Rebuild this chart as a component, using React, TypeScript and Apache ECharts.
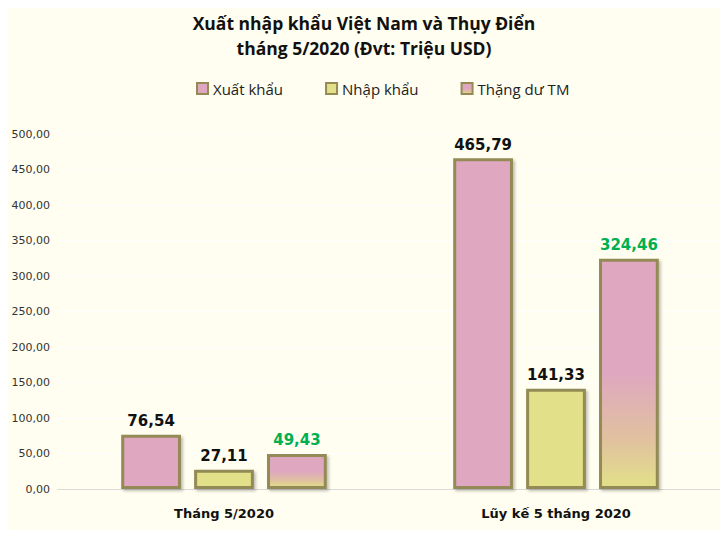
import { useEffect, useRef } from 'react';
import * as echarts from 'echarts';

const categories = ['Tháng 5/2020', 'Lũy kế 5 tháng 2020'];
const exportValues = [76.54, 465.79];
const importValues = [27.11, 141.33];
const surplusValues = [49.43, 324.46];
const seriesNames = ['Xuất khẩu', 'Nhập khẩu', 'Thặng dư TM'];

const PINK = '#dfa8c0';
const YELLOW = '#e2e088';
const BORDER = '#948a54';

const fmt = (v: number) => v.toFixed(2).replace('.', ',');

export default function App() {
  const chartRef = useRef<HTMLDivElement>(null);

  useEffect(() => {
    if (!chartRef.current) return;
    const chart = echarts.init(chartRef.current, null, { renderer: 'svg' });

    const surplusFill = new echarts.graphic.LinearGradient(0, 0, 0, 1, [
      { offset: 0, color: PINK },
      { offset: 0.5, color: PINK },
      { offset: 0.78, color: '#e0c0a0' },
      { offset: 1, color: YELLOW }
    ]);

    const barStyle = (color: any) => ({
      color,
      borderColor: BORDER,
      borderWidth: 3,
      shadowColor: 'rgba(0,0,0,0.25)',
      shadowBlur: 3,
      shadowOffsetX: 2,
      shadowOffsetY: 2
    });

    const label = (color: string) => ({
      show: true,
      position: 'top',
      distance: 6,
      color,
      fontSize: 15,
      fontWeight: 'bold',
      fontFamily: 'DejaVu Sans',
      formatter: (p: any) => fmt(p.value)
    });

    chart.setOption({
      animation: false,
      backgroundColor: '#fffef0',
      textStyle: { fontFamily: 'DejaVu Sans' },
      title: {
        text: 'Xuất nhập khẩu Việt Nam và Thụy Điển\ntháng 5/2020 (Đvt: Triệu USD)',
        left: 'center',
        top: 5,
        textStyle: {
          fontSize: 17.5,
          fontWeight: 'bold',
          color: '#111',
          lineHeight: 25,
          fontFamily: 'Open Sans'
        }
      },
      legend: {
        top: 76,
        left: 191,
        icon: 'rect',
        itemWidth: 11,
        itemHeight: 11,
        itemGap: 42,
        itemStyle: { borderColor: BORDER, borderWidth: 2 },
        textStyle: { fontSize: 15, color: '#222', fontFamily: 'Open Sans', padding: [0, 0, 2, 0] },
        data: seriesNames
      },
      grid: { left: 58, right: 6, top: 134, bottom: 49 },
      xAxis: {
        type: 'category',
        data: categories,
        axisLine: { lineStyle: { color: '#d9d9d9', width: 1 } },
        axisTick: { show: false },
        axisLabel: {
          margin: 18,
          fontSize: 13,
          fontWeight: 'bold',
          color: '#111'
        }
      },
      yAxis: {
        type: 'value',
        min: 0,
        max: 500,
        interval: 50,
        axisLine: { show: false },
        axisTick: { show: false },
        splitLine: { lineStyle: { color: '#ffffff', width: 1 } },
        axisLabel: {
          margin: 8,
          fontSize: 11,
          color: '#333',
          formatter: (v: number) => fmt(v)
        }
      },
      series: [
        {
          name: seriesNames[0],
          type: 'bar',
          data: exportValues,
          barWidth: '18%',
          barGap: '22%',
          itemStyle: barStyle(PINK),
          label: label('#111')
        },
        {
          name: seriesNames[1],
          type: 'bar',
          data: importValues,
          barWidth: '18%',
          barGap: '22%',
          itemStyle: barStyle(YELLOW),
          label: label('#111')
        },
        {
          name: seriesNames[2],
          type: 'bar',
          data: surplusValues,
          barWidth: '18%',
          barGap: '22%',
          itemStyle: barStyle(surplusFill),
          label: label('#00b050')
        }
      ]
    });

    return () => chart.dispose();
  }, []);

  return <div ref={chartRef} style={{ width: 728, height: 538, margin: -8 }} />;
}
